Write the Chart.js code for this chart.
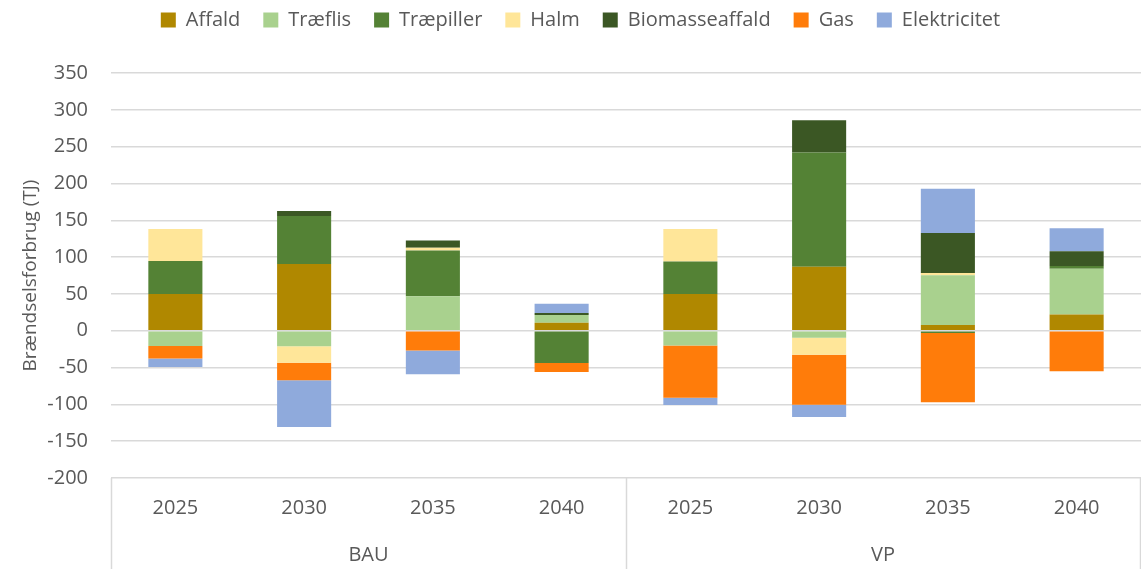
<!DOCTYPE html>
<html>
<head>
<meta charset="utf-8">
<script src="https://cdn.jsdelivr.net/npm/chart.js@4/dist/chart.umd.min.js"></script>
<style>
	body { margin: 0; background: #fff; }
	#wrap { width: 1141px; height: 569px; }
</style>
</head>
<body>
<div id="wrap"><canvas id="c" width="1141" height="569"></canvas></div>
<script>
// categories (two-level axis: scenario / year)
var years = ["2025", "2030", "2035", "2040", "2025", "2030", "2035", "2040"];
var groups = ["BAU", "VP"];
var groupSize = 4;

// series values, TJ
var affald         = [50, 90.5, 0, 10.8, 50, 87, 7.7, 22];
var traeflis       = [-20.7, -21, 46.8, 10.4, -20, -9.5, 67.6, 62];
var traepiller     = [44.6, 65.3, 62.2, -43.7, 44, 155, -3, 4];
var halm           = [43.7, -22.5, 3.6, 0, 44, -23, 3, 0];
var biomasseaffald = [0, 6.8, 9.9, 3, 0, 44, 54.5, 20];
var gas            = [-17, -23.9, -27, -12.2, -71, -68, -94, -55];
var elektricitet   = [-11.7, -63.5, -32, 12.6, -10, -16.7, 60, 31];

var textColor = "#595959";
var gridColor = "#d9d9d9";
var fontFamily = "'Open Sans', sans-serif";

function ds(label, data, color) {
	return {
		label: label,
		data: data,
		backgroundColor: color,
		borderWidth: 0,
		barPercentage: 0.84,
		categoryPercentage: 0.5,
		stack: "s"
	};
}

// extra room between the legend and the plot, and nudge the legend right a bit
var legendGap = {
	id: "legendGap",
	beforeInit: function(chart) {
		var lg = chart.legend;
		var origFit = lg.fit;
		lg.fit = function() {
			origFit.call(this);
			this.height += 33;
		};
		var origDraw = lg.draw;
		lg.draw = function() {
			var ctx = this.ctx;
			ctx.save();
			ctx.translate(10, 0);
			origDraw.apply(this, arguments);
			ctx.restore();
		};
	}
};

// draws the second row of the x axis (BAU / VP) and the separators
var groupAxis = {
	id: "groupAxis",
	afterDraw: function(chart) {
		var ctx = chart.ctx;
		var xs = chart.scales.x;
		var area = chart.chartArea;
		var h = chart.height;
		ctx.save();
		ctx.strokeStyle = gridColor;
		ctx.lineWidth = 1.5;
		var bounds = [xs.left];
		for (var g = 1; g < groups.length; g++) {
			var i = g * groupSize;
			bounds.push((xs.getPixelForValue(i - 1) + xs.getPixelForValue(i)) / 2);
		}
		bounds.push(xs.right - 1);
		for (var k = 0; k < bounds.length; k++) {
			ctx.beginPath();
			ctx.moveTo(Math.round(bounds[k]) + 0.5, area.bottom);
			ctx.lineTo(Math.round(bounds[k]) + 0.5, h);
			ctx.stroke();
		}
		ctx.fillStyle = textColor;
		ctx.font = "20px " + fontFamily;
		ctx.textAlign = "center";
		ctx.textBaseline = "middle";
		for (var g2 = 0; g2 < groups.length; g2++) {
			var x = (bounds[g2] + bounds[g2 + 1]) / 2;
			ctx.fillText(groups[g2], x, 555);
		}
		ctx.restore();
	}
};

var c = new Chart(document.getElementById("c"), {
	type: "bar",
	data: {
		labels: years,
		datasets: [
			ds("Affald", affald, "#b08800"),
			ds("Træflis", traeflis, "#a9d18e"),
			ds("Træpiller", traepiller, "#548235"),
			ds("Halm", halm, "#ffe699"),
			ds("Biomasseaffald", biomasseaffald, "#3b5724"),
			ds("Gas", gas, "#ff7c0a"),
			ds("Elektricitet", elektricitet, "#8faadc")
		]
	},
	options: {
		responsive: false,
		animation: false,
		devicePixelRatio: 1,
		layout: { padding: { left: 0, right: 0, top: -13, bottom: 0 } },
		plugins: {
			tooltip: { enabled: false },
			legend: {
				position: "top",
				labels: {
					color: textColor,
					font: { family: fontFamily, size: 20 },
					boxWidth: 15,
					boxHeight: 15,
					padding: 23
				}
			}
		},
		scales: {
			x: {
				stacked: true,
				grid: { display: false, drawTicks: false },
				border: { display: false },
				ticks: {
					color: textColor,
					font: { family: fontFamily, size: 20 },
					padding: 18,
					maxRotation: 0,
					autoSkip: false
				},
				afterFit: function(scale) { scale.height = 91; }
			},
			y: {
				stacked: true,
				min: -200,
				max: 350,
				grid: { color: gridColor, lineWidth: 1.5, drawTicks: false },
				border: { display: false },
				ticks: {
					stepSize: 50,
					color: textColor,
					font: { family: fontFamily, size: 20 },
					padding: 23
				},
				title: {
					display: true,
					text: "Brændselsforbrug (TJ)",
					color: textColor,
					font: { family: fontFamily, size: 19 },
					padding: { top: 19, bottom: 0 }
				},
				afterFit: function(scale) { scale.width = 111; }
			}
		}
	},
	plugins: [legendGap, groupAxis]
});
</script>
</body>
</html>
